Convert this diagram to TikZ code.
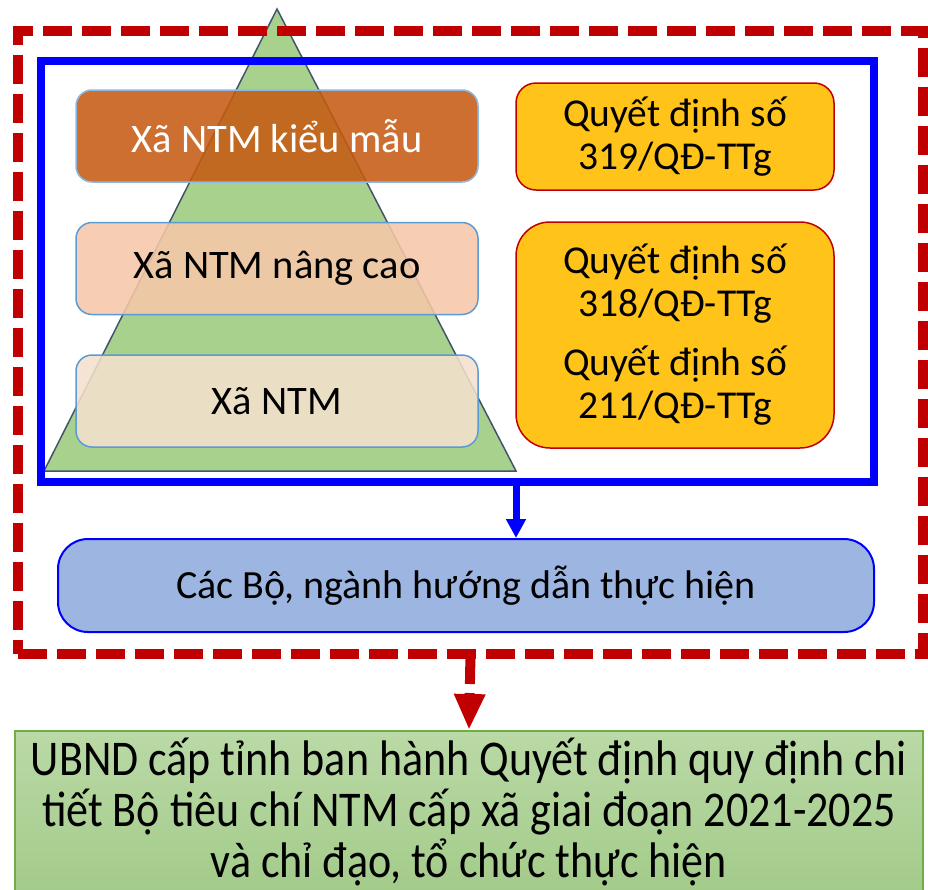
\documentclass[tikz,border=0pt]{standalone}
\usepackage{fontspec}
\setmainfont{Carlito}
\newfontfamily\narrowfont{Carlito}[FakeStretch=0.88]
\usetikzlibrary{arrows.meta}
\definecolor{tri}{RGB}{169,209,142}
\definecolor{triedge}{RGB}{68,84,106}
\definecolor{kmfill}{RGB}{197,90,17}
\definecolor{ncfill}{RGB}{246,199,168}
\definecolor{xfill}{RGB}{244,224,206}
\definecolor{boxedge}{RGB}{91,155,213}
\definecolor{yel}{RGB}{255,195,25}
\definecolor{darkred}{RGB}{192,0,0}
\definecolor{cbfill}{RGB}{157,181,225}
\definecolor{gtop}{RGB}{186,217,166}
\definecolor{gbot}{RGB}{163,203,138}
\definecolor{gedge}{RGB}{112,173,71}
\tikzset{
  levelbox/.style={draw=boxedge, line width=1.5pt, rounded corners=16pt, minimum width=402pt, minimum height=92pt, inner sep=0pt, fill opacity=0.87, text opacity=1, font=\fontsize{40.5}{44}\selectfont},
  qdbox/.style={draw=darkred, line width=1.5pt, fill=yel, minimum width=318pt, inner sep=0pt, align=center, font=\fontsize{39.5}{43}\selectfont},
  txt/.style={font=\fontsize{40}{44}\selectfont}
}
\begin{document}
\begin{tikzpicture}[x=1pt,y=-1pt]
\useasboundingbox (0,0) rectangle (928,889);
% pyramid
\draw[draw=triedge, line width=1.5pt, fill=tri] (277,9) -- (516,471) -- (44,471) -- cycle;
% frames
\node[draw=darkred, line width=10pt, dash pattern=on 29pt off 10pt, minimum width=905pt, minimum height=623pt, inner sep=0pt, outer sep=0pt] (redframe) at (470.5,342.5) {};
\node[draw=blue, line width=8pt, minimum width=833pt, minimum height=421pt, inner sep=0pt, outer sep=0pt] (blueframe) at (457.5,271.5) {};
% level boxes
\node[levelbox, draw=boxedge!70, fill=kmfill, text=white] (km) at (277,136) {Xã NTM kiểu mẫu};
\node[levelbox, fill=ncfill] (nc) at (277,268.5) {Xã NTM nâng cao};
\node[levelbox, fill=xfill] (xa) at (277,401) {Xã NTM};
% decisions
\node[qdbox, minimum height=107pt, rounded corners=20pt] (qd1) at (675,136.5) {Quyết định số\\319/QĐ-TTg};
\node[qdbox, minimum height=226pt, rounded corners=34pt] (qd2) at (675,335) {Quyết định số\\318/QĐ-TTg\\[16pt]Quyết định số\\211/QĐ-TTg};
% ministries
\node[draw=blue, line width=2pt, fill=cbfill, rounded corners=30pt, minimum width=816pt, minimum height=93pt, inner sep=0pt, txt] (cacbo) at (466,585.5) {Các Bộ, ngành hướng dẫn thực hiện};
% province
\node[draw=gedge, line width=2pt, top color=gtop, bottom color=gbot, minimum width=908pt, minimum height=161pt, inner sep=0pt, align=center, font=\narrowfont\fontsize{50}{51}\selectfont] (ubnd) at (469,811.5) {UBND cấp tỉnh ban hành Quyết định quy định chi\\tiết Bộ tiêu chí NTM cấp xã giai đoạn 2021-2025\\và chỉ đạo, tổ chức thực hiện};
% connectors
\coordinate (bx) at (516,0);
\draw[blue, line width=7pt, -{Triangle[width=19pt,length=19pt]}] (bx |- blueframe.south) -- (bx |- cacbo.north);
\draw[darkred, line width=10pt, dash pattern=on 30pt off 9pt, -{Triangle[width=29pt,length=36pt]}] (redframe.south) -- (ubnd.north);
\end{tikzpicture}
\end{document}
